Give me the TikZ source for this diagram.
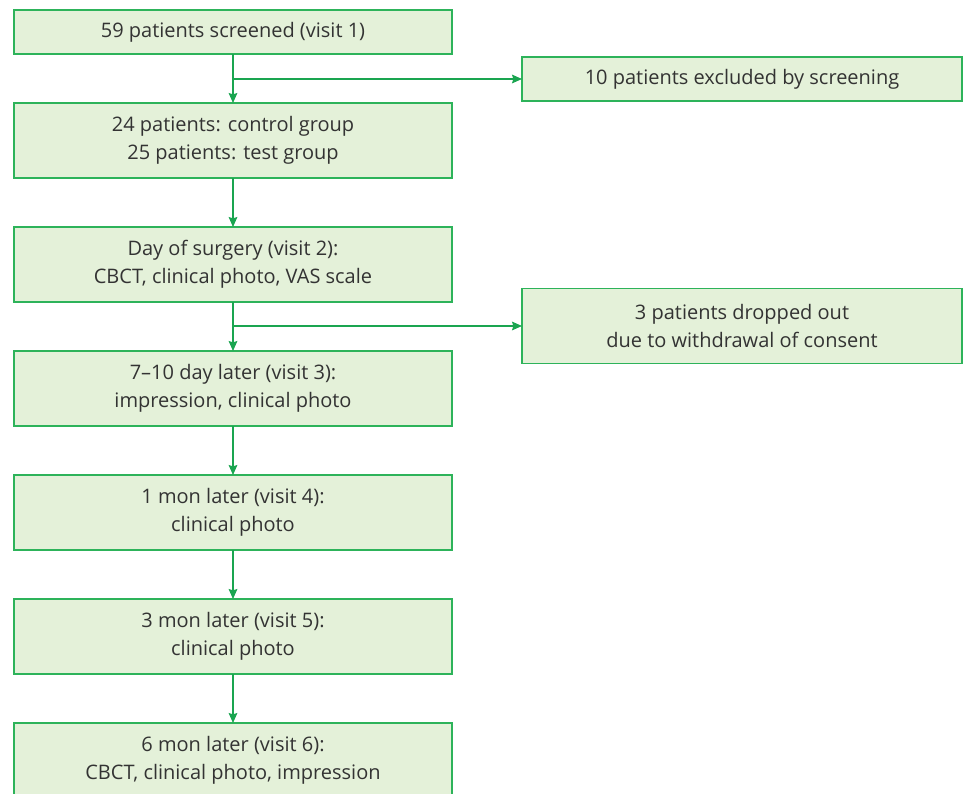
\documentclass[tikz,border=0pt]{standalone}
\usepackage{fontspec}
\setmainfont{Open Sans}
\usetikzlibrary{arrows.meta,positioning}

\definecolor{boxfill}{HTML}{E4F1D9}
\definecolor{boxline}{HTML}{2DB35A}
\definecolor{arrline}{HTML}{1AA550}
\definecolor{txt}{HTML}{333333}

\begin{document}
\begin{tikzpicture}[x=0.75pt,y=-0.75pt,
	>={Stealth[length=7.5pt,width=6.5pt,inset=1pt]},
	node distance=36.75pt,
	stepbox/.style={rectangle,draw=boxline,fill=boxfill,line width=1.1pt,
		text=txt,font=\fontsize{15}{21}\selectfont,align=center,
		minimum width=328.5pt,minimum height=56.25pt,inner sep=0pt,outer sep=0pt},
	onebox/.style={stepbox,minimum height=33pt},
	flow/.style={->,draw=arrline,line width=1.1pt}]
	
	\useasboundingbox (0,0) rectangle (963,793);
	
	\node[onebox] (screen) at (233,32) {59 patients screened (visit 1)};
	\node[stepbox] (groups) [below=of screen] {24 patients: control group\\25 patients: test group};
	\node[stepbox] (surgery) [below=of groups] {Day of surgery (visit 2):\\CBCT, clinical photo, VAS scale};
	\node[stepbox] (visit3) [below=of surgery] {7--10 day later (visit 3):\\impression, clinical photo};
	\node[stepbox] (visit4) [below=of visit3] {1 mon later (visit 4):\\clinical photo};
	\node[stepbox] (visit5) [below=of visit4] {3 mon later (visit 5):\\clinical photo};
	\node[stepbox] (visit6) [below=of visit5] {6 mon later (visit 6):\\CBCT, clinical photo, impression};
	
	\node[onebox,minimum width=330pt] (excl) at (742,79) {10 patients excluded by screening};
	\node[stepbox,minimum width=330pt] (drop) at (742,326) {3 patients dropped out\\due to withdrawal of consent};
	
	\coordinate (j1) at (screen.south |- excl.west);
	\coordinate (j2) at (surgery.south |- drop.west);
	
	\path
	(screen) edge[flow] (groups)
	(groups) edge[flow] (surgery)
	(surgery) edge[flow] (visit3)
	(visit3) edge[flow] (visit4)
	(visit4) edge[flow] (visit5)
	(visit5) edge[flow] (visit6)
	(j1) edge[flow] (excl)
	(j2) edge[flow] (drop);
\end{tikzpicture}
\end{document}
